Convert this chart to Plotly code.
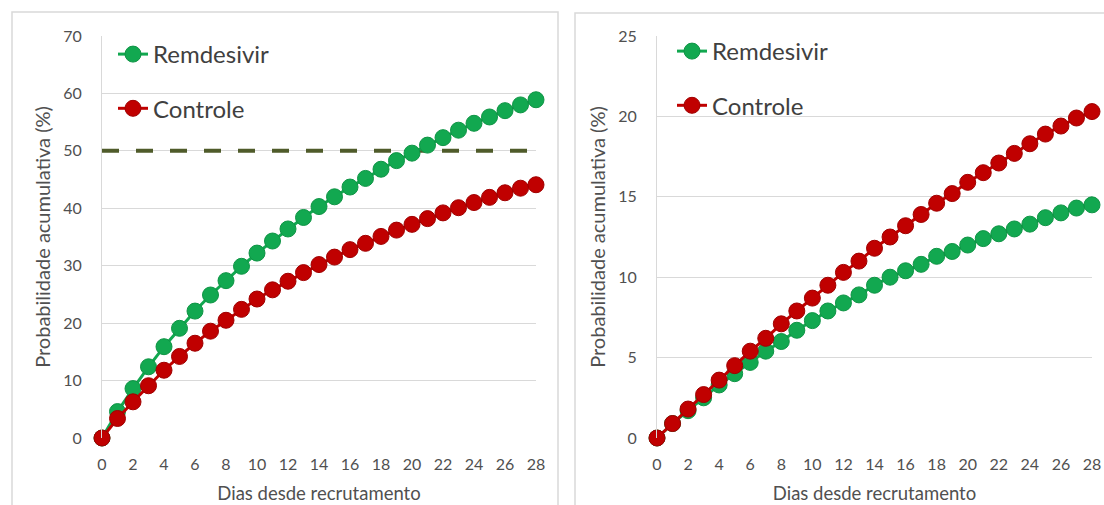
import plotly.graph_objects as go

days = list(range(0, 29))
x_ticks = list(range(0, 29, 2))

left_remdesivir = [0, 4.6, 8.6, 12.4, 15.9, 19.1, 22.1, 24.9, 27.4, 29.9, 32.2, 34.3, 36.4, 38.4, 40.3,
                   42.0, 43.7, 45.2, 46.8, 48.3, 49.6, 51.0, 52.3, 53.6, 54.8, 55.9, 57.0, 58.0, 58.9]
left_controle = [0, 3.4, 6.3, 9.1, 11.8, 14.2, 16.5, 18.6, 20.5, 22.4, 24.2, 25.8, 27.3, 28.8, 30.2,
                 31.5, 32.8, 33.9, 35.1, 36.2, 37.2, 38.2, 39.2, 40.1, 41.0, 41.9, 42.7, 43.5, 44.1]
right_remdesivir = [0, 0.9, 1.7, 2.5, 3.3, 4.0, 4.7, 5.4, 6.0, 6.7, 7.3, 7.9, 8.4, 8.9, 9.5,
                    10.0, 10.4, 10.8, 11.3, 11.6, 12.0, 12.4, 12.7, 13.0, 13.3, 13.7, 14.0, 14.3, 14.5]
right_controle = [0, 0.9, 1.8, 2.7, 3.6, 4.5, 5.4, 6.2, 7.1, 7.9, 8.7, 9.5, 10.3, 11.0, 11.8,
                  12.5, 13.2, 13.9, 14.6, 15.2, 15.9, 16.5, 17.1, 17.7, 18.3, 18.9, 19.4, 19.9, 20.3]
threshold = 50
left_yticks = [0, 10, 20, 30, 40, 50, 60, 70]
right_yticks = [0, 5, 10, 15, 20, 25]

GREEN = "#12a850"
RED = "#c00000"
GRID = "#d9d9d9"
FONT = "Lato"
TXT = "#505050"
W, H = 1104, 505

fig = go.Figure()

# threshold line (left)
fig.add_trace(go.Scatter(x=[days[0], days[-1]], y=[threshold, threshold], mode="lines",
                         line=dict(color="#4f5b2a", width=4, dash="17px,17px"),
                         showlegend=False, hoverinfo="skip", xaxis="x", yaxis="y"))

def add_series(x, y, name, color, edge, xa, ya, legend):
    fig.add_trace(go.Scatter(
        x=x, y=y, name=name, mode="lines+markers",
        line=dict(color=color, width=3),
        marker=dict(size=16, color=color, line=dict(color=edge, width=1)),
        cliponaxis=False, xaxis=xa, yaxis=ya, legend=legend, legendgroup=legend + name,
    ))

add_series(days, left_remdesivir, "Remdesivir", GREEN, "#0f9445", "x", "y", "legend")
add_series(days, left_controle, "Controle", RED, "#a00000", "x", "y", "legend")
add_series(days, right_remdesivir, "Remdesivir", GREEN, "#0f9445", "x2", "y2", "legend2")
add_series(days, right_controle, "Controle", RED, "#a00000", "x2", "y2", "legend2")

ytop = 1 - 36 / H
ybot = 1 - 438 / H

xcommon = dict(range=[0, 28], tickvals=x_ticks, showgrid=False, zeroline=False, showline=False,
               ticks="outside", ticklen=12, tickcolor="rgba(0,0,0,0)",
               tickfont=dict(family=FONT, size=16, color=TXT),
               title=dict(text="Dias desde recrutamento", standoff=14,
                          font=dict(family=FONT, size=18.5, color=TXT)),
               automargin=False, fixedrange=True)
ycommon = dict(showgrid=True, gridcolor=GRID, gridwidth=1, zeroline=False,
               showline=True, linecolor=GRID, linewidth=1,
               ticks="outside", ticklen=16, tickcolor="rgba(0,0,0,0)",
               tickfont=dict(family=FONT, size=16, color=TXT),
               title=dict(text="Probabilidade acumulativa (%)", standoff=7,
                          font=dict(family=FONT, size=20, color=TXT)),
               automargin=False, fixedrange=True)

legcommon = dict(font=dict(family=FONT, size=24, color="#404040"), bgcolor="rgba(0,0,0,0)",
                 traceorder="grouped", tracegroupgap=20, xanchor="left", yanchor="top",
                 itemclick=False, itemdoubleclick=False)

fig.update_layout(
    width=W, height=H, margin=dict(l=0, r=0, t=0, b=0, autoexpand=False),
    paper_bgcolor="white", plot_bgcolor="white",
    showlegend=True,
    xaxis=dict(domain=[102 / W, 536 / W], anchor="y", **xcommon),
    yaxis=dict(domain=[ybot, ytop], range=[0, 70], tickvals=left_yticks, anchor="x", **ycommon),
    xaxis2=dict(domain=[657 / W, 1092 / W], anchor="y2", **xcommon),
    yaxis2=dict(domain=[ybot, ytop], range=[0, 25], tickvals=right_yticks, anchor="x2", **ycommon),
    legend=dict(x=113 / W, y=1 - 32 / H, **legcommon),
    legend2=dict(x=672 / W, y=1 - 29 / H, **legcommon),
    shapes=[
        dict(type="rect", xref="paper", yref="paper", x0=12 / W, x1=558 / W, y0=-0.05, y1=1 - 12 / H,
             line=dict(color=GRID, width=1.5), fillcolor="rgba(0,0,0,0)", layer="below"),
        dict(type="rect", xref="paper", yref="paper", x0=575 / W, x1=1.02, y0=-0.05, y1=1 - 13 / H,
             line=dict(color=GRID, width=1.5), fillcolor="rgba(0,0,0,0)", layer="below"),
    ],
)

fig.write_html("out.html", config={"displayModeBar": False})
